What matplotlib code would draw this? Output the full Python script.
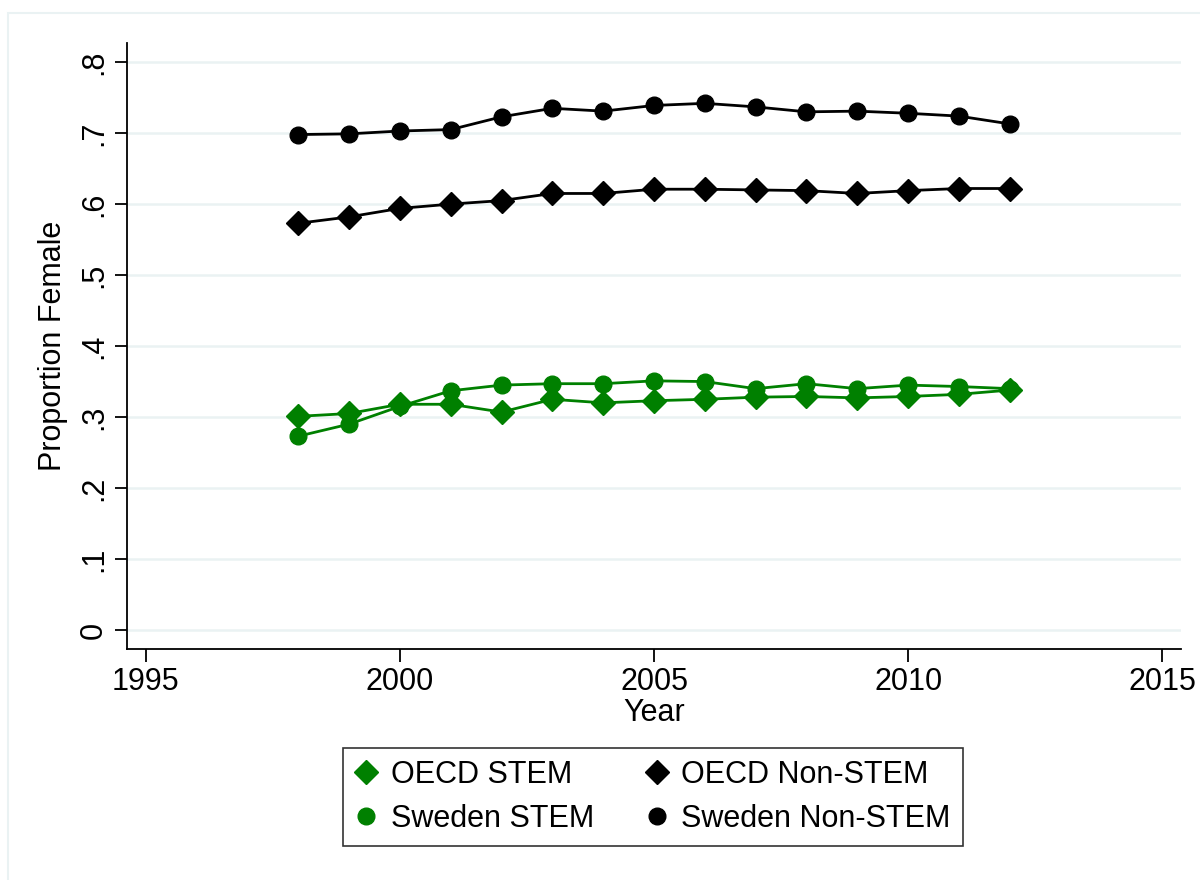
import numpy as np
import matplotlib
matplotlib.use("Agg")
import matplotlib.pyplot as plt
from matplotlib.lines import Line2D
from matplotlib.patches import Rectangle

plt.rcParams['font.family'] = ['Liberation Sans', 'DejaVu Sans']

years = list(range(1998, 2013))
oecd_stem = [0.301, 0.305, 0.318, 0.318, 0.307, 0.325, 0.320, 0.323, 0.325,
             0.328, 0.329, 0.327, 0.329, 0.332, 0.338]
sweden_stem = [0.273, 0.290, 0.315, 0.337, 0.345, 0.347, 0.347, 0.351, 0.350,
               0.340, 0.347, 0.340, 0.345, 0.343, 0.340]
oecd_nonstem = [0.573, 0.582, 0.594, 0.600, 0.605, 0.615, 0.615, 0.621, 0.621,
                0.620, 0.619, 0.615, 0.619, 0.622, 0.622]
sweden_nonstem = [0.698, 0.699, 0.703, 0.705, 0.723, 0.735, 0.731, 0.739, 0.742,
                  0.737, 0.730, 0.731, 0.728, 0.724, 0.713]

xticks = [1995, 2000, 2005, 2010, 2015]
yticks = [0, 0.1, 0.2, 0.3, 0.4, 0.5, 0.6, 0.7, 0.8]
ylabels = ['0', '.1', '.2', '.3', '.4', '.5', '.6', '.7', '.8']

green = '#008000'
grid_c = '#EAF2F3'
fs = 22

fig = plt.figure(figsize=(12, 8.8), dpi=100)
# outer graph region frame (right and bottom edges run off the image)
fig.patches.append(Rectangle((8 / 1200, -20 / 880), 1220 / 1200, 887 / 880,
                             transform=fig.transFigure, fill=False,
                             edgecolor=grid_c, linewidth=1.5, zorder=0))

ax = fig.add_axes([127 / 1200, 1 - 649 / 880, 1054 / 1200, 606 / 880])
ax.set_xlim(1994.63, 2015.37)
ax.set_ylim(-0.0268, 0.827)

for v in yticks:
    ax.axhline(v, color=grid_c, linewidth=1.8, zorder=0)

ms = 12
lw = 2
ax.plot(years, sweden_nonstem, color='black', marker='o', markersize=ms, linewidth=lw)
ax.plot(years, oecd_nonstem, color='black', marker='D', markersize=ms, linewidth=lw)
ax.plot(years, sweden_stem, color=green, marker='o', markersize=ms, linewidth=lw)
ax.plot(years, oecd_stem, color=green, marker='D', markersize=ms, linewidth=lw)

ax.spines['top'].set_visible(False)
ax.spines['right'].set_visible(False)
ax.spines['left'].set_linewidth(1.3)
ax.spines['bottom'].set_linewidth(1.3)

ax.set_xticks(xticks)
ax.set_xticklabels([str(t) for t in xticks], fontsize=fs)
ax.set_yticks(yticks)
ax.set_yticklabels(ylabels, fontsize=fs, rotation=90, va='center')
ax.tick_params(axis='both', direction='out', length=9, width=1.3, pad=4)
ax.set_xlabel('Year', fontsize=fs, labelpad=1)
ax.set_ylabel('Proportion Female', fontsize=fs, labelpad=8)

handles = [
    Line2D([], [], color=green, marker='D', markersize=ms, linestyle='none'),
    Line2D([], [], color=green, marker='o', markersize=ms, linestyle='none'),
    Line2D([], [], color='black', marker='D', markersize=ms, linestyle='none'),
    Line2D([], [], color='black', marker='o', markersize=ms, linestyle='none'),
]
labels = ['OECD STEM', 'Sweden STEM', 'OECD Non-STEM', 'Sweden Non-STEM']
leg = fig.legend(handles, labels, ncol=2, loc='center',
                 bbox_to_anchor=(653 / 1200, 1 - 797 / 880), fontsize=fs,
                 frameon=True, fancybox=False, edgecolor='black',
                 handlelength=0.7, handletextpad=0.45, columnspacing=1.7,
                 labelspacing=0.45, borderpad=0.4)
leg.get_frame().set_linewidth(1.2)

fig.savefig('out.png', dpi=100)
